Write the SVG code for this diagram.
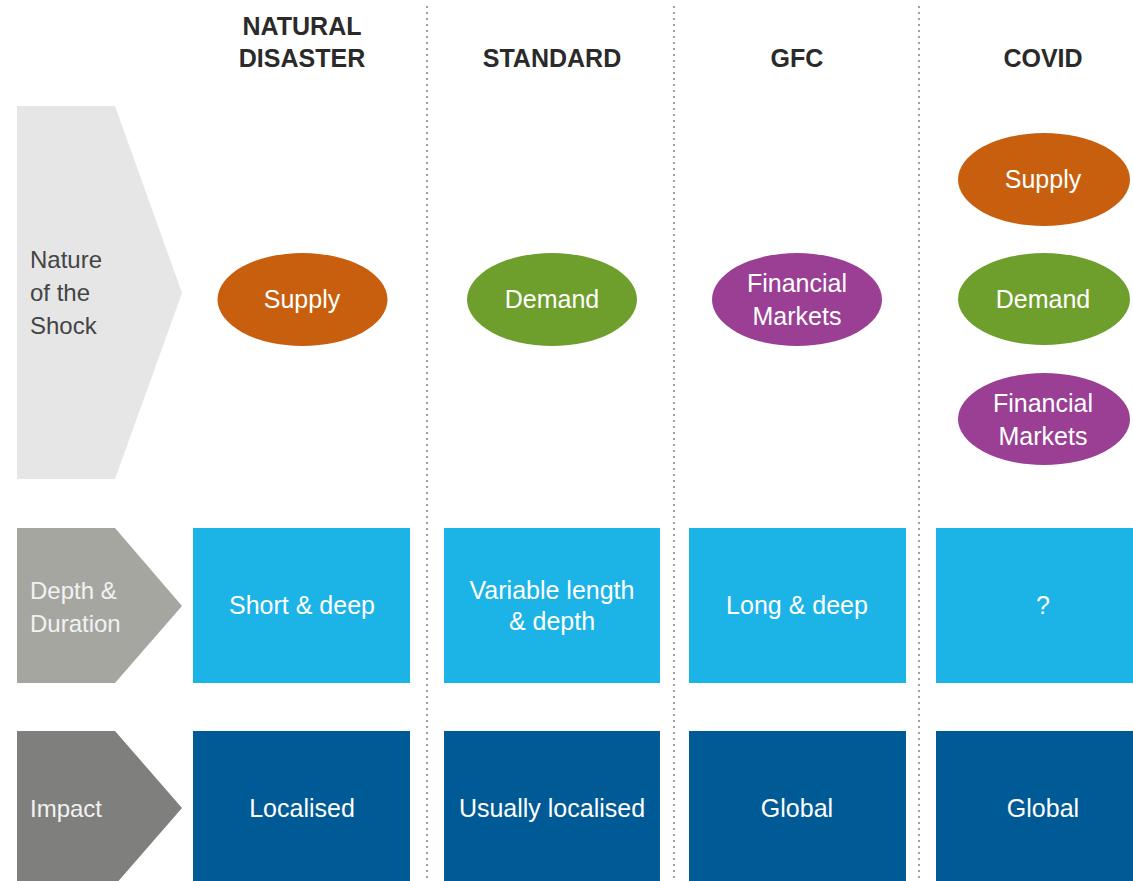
<svg xmlns="http://www.w3.org/2000/svg" width="1133" height="881" viewBox="0 0 1133 881">
<style>
.hdr{font-family:"Liberation Sans",Arial,sans-serif;font-weight:bold;font-size:25px;fill:#2a2a2a;text-anchor:middle}
.lbl{font-family:"Liberation Sans",Arial,sans-serif;font-size:24px}
.t{font-family:"Liberation Sans",Arial,sans-serif;font-size:25px;fill:#ffffff;text-anchor:middle}
.div{stroke:#a0a0a0;stroke-width:2;stroke-dasharray:2 4;fill:none}
.lb{fill:#1cb3e6}
.db{fill:#005a96}
.sup{fill:#c75f0e}
.dem{fill:#6e9f2c}
.fin{fill:#9a3f94}
</style>
<rect width="1133" height="881" fill="#ffffff"/>
<g id="dividers">
<line class="div" x1="427" y1="6" x2="427" y2="881"/>
<line class="div" x1="674" y1="6" x2="674" y2="881"/>
<line class="div" x1="919" y1="6" x2="919" y2="881"/>
</g>
<g id="headers">
<text class="hdr" x="302" y="35">NATURAL</text>
<text class="hdr" x="302" y="67">DISASTER</text>
<text class="hdr" x="552" y="67">STANDARD</text>
<text class="hdr" x="797" y="67">GFC</text>
<text class="hdr" x="1043" y="67">COVID</text>
</g>
<g id="row-nature">
<polygon points="17,106 115,106 182,293 115,479 17,479" fill="#e6e6e6"/>
<text class="lbl" fill="#444444"><tspan x="30" y="268">Nature</tspan><tspan x="30" y="301">of the</tspan><tspan x="30" y="334">Shock</tspan></text>
</g>
<g id="row-depth">
<polygon points="17,528 115,528 182,606 115,683 17,683" fill="#a6a6a1"/>
<text class="lbl" fill="#f2f2f2"><tspan x="30" y="599">Depth &amp;</tspan><tspan x="30" y="632">Duration</tspan></text>
</g>
<g id="row-impact">
<polygon points="17,731 115,731 182,808 115,885 17,885" fill="#7f7f7e"/>
<text class="lbl" fill="#f2f2f2" x="30" y="817">Impact</text>
</g>
<g id="nd-supply"><ellipse class="sup" cx="302.5" cy="299.5" rx="85" ry="46.5"/><text class="t" x="302" y="308">Supply</text></g>
<g id="std-demand"><ellipse class="dem" cx="552" cy="299.5" rx="85" ry="46.5"/><text class="t" x="552" y="308">Demand</text></g>
<g id="gfc-fin"><ellipse class="fin" cx="797" cy="299.5" rx="85" ry="46.5"/><text class="t" x="797" y="292">Financial</text><text class="t" x="797" y="325">Markets</text></g>
<g id="covid-supply"><ellipse class="sup" cx="1044" cy="179.5" rx="86" ry="46.5"/><text class="t" x="1043" y="188">Supply</text></g>
<g id="covid-demand"><ellipse class="dem" cx="1044" cy="299" rx="86" ry="46"/><text class="t" x="1043" y="308">Demand</text></g>
<g id="covid-fin"><ellipse class="fin" cx="1044" cy="419" rx="86" ry="46"/><text class="t" x="1043" y="412">Financial</text><text class="t" x="1043" y="445">Markets</text></g>
<g id="nd-depth"><rect class="lb" x="193" y="528" width="217" height="155"/><text class="t" x="302" y="614">Short &amp; deep</text></g>
<g id="std-depth"><rect class="lb" x="444" y="528" width="216" height="155"/><text class="t" x="552" y="599">Variable length</text><text class="t" x="552" y="630">&amp; depth</text></g>
<g id="gfc-depth"><rect class="lb" x="689" y="528" width="217" height="155"/><text class="t" x="797" y="614">Long &amp; deep</text></g>
<g id="covid-depth"><rect class="lb" x="936" y="528" width="197" height="155"/><text class="t" x="1043" y="614">?</text></g>
<g id="nd-impact"><rect class="db" x="193" y="731" width="217" height="150"/><text class="t" x="302" y="817">Localised</text></g>
<g id="std-impact"><rect class="db" x="444" y="731" width="216" height="150"/><text class="t" x="552" y="817">Usually localised</text></g>
<g id="gfc-impact"><rect class="db" x="689" y="731" width="217" height="150"/><text class="t" x="797" y="817">Global</text></g>
<g id="covid-impact"><rect class="db" x="936" y="731" width="197" height="150"/><text class="t" x="1043" y="817">Global</text></g>
</svg>
